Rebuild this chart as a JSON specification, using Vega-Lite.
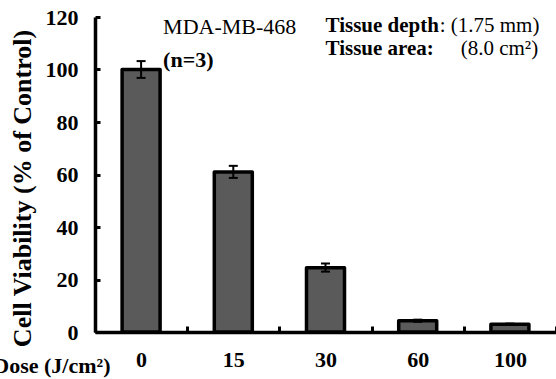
{
  "$schema": "https://vega.github.io/schema/vega-lite/v6.json",
  "width": 461,
  "height": 315,
  "autosize": {"type": "none"},
  "padding": {"left": 95, "top": 17, "right": 0, "bottom": 47},
  "background": "white",
  "config": {"view": {"stroke": null}, "font": "Liberation Serif"},
  "datasets": {
    "bars": [
      {"dose": "0", "viability": 100, "lo": 96.8, "hi": 103.2},
      {"dose": "15", "viability": 61, "lo": 58.7, "hi": 63.3},
      {"dose": "30", "viability": 24.5, "lo": 23.0, "hi": 26.1},
      {"dose": "60", "viability": 4.3, "lo": 3.9, "hi": 4.7},
      {"dose": "100", "viability": 3.0, "lo": 2.8, "hi": 3.2}
    ],
    "cell": [{"dose": "0", "y": 113.5, "label": "MDA-MB-468"}],
    "n": [{"dose": "0", "y": 101, "label": "(n=3)"}],
    "tissueBold": [
      {"dose": "30", "y": 114.3, "label": "Tissue depth"},
      {"dose": "30", "y": 105.5, "label": "Tissue area:"}
    ],
    "depthVal": [{"dose": "60", "y": 114.3, "label": ": (1.75 mm)"}],
    "areaVal": [{"dose": "60", "y": 105.5, "label": "(8.0 cm²)"}]
  },
  "layer": [
    {
      "data": {"name": "bars"},
      "mark": {"type": "bar", "fill": "#5a5a5a", "stroke": "black", "strokeWidth": 3.5, "size": 38, "strokeJoin": "round"},
      "encoding": {
        "x": {
          "field": "dose", "type": "ordinal",
          "sort": ["0", "15", "30", "60", "100"],
          "scale": {"paddingInner": 0, "paddingOuter": 0},
          "axis": {
            "title": "Dose (J/cm²)",
            "titleFont": "Liberation Serif", "titleFontSize": 22, "titleFontWeight": "bold", "titleColor": "black",
            "titleX": 15, "titleY": 40, "titleAlign": "right", "titleBaseline": "alphabetic", "titleAnchor": null,
            "labelFont": "Liberation Serif", "labelFontSize": 22, "labelFontWeight": "bold", "labelColor": "black",
            "labelAngle": 0, "labelBaseline": "alphabetic", "labelPadding": 40,
            "domainColor": "black", "domainWidth": 3.5,
            "tickColor": "black", "tickWidth": 3, "tickSize": -6, "tickBand": "extent"
          }
        },
        "y": {
          "field": "viability", "type": "quantitative",
          "scale": {"domain": [0, 120], "nice": false},
          "axis": {
            "title": "Cell Viability (% of Control)",
            "titleFont": "Liberation Serif", "titleFontSize": 26, "titleFontWeight": "bold", "titleColor": "black",
            "titleX": -73, "titleY": 171, "titleBaseline": "middle", "titleAnchor": null,
            "values": [0, 20, 40, 60, 80, 100, 120],
            "labelFont": "Liberation Serif", "labelFontSize": 22, "labelFontWeight": "bold", "labelColor": "black",
            "labelPadding": 22,
            "grid": false,
            "domainColor": "black", "domainWidth": 3.5,
            "tickColor": "black", "tickWidth": 3, "tickSize": -5
          }
        }
      }
    },
    {
      "data": {"name": "bars"},
      "mark": {"type": "rule", "strokeWidth": 2, "color": "black"},
      "encoding": {
        "x": {"field": "dose", "type": "ordinal", "sort": ["0", "15", "30", "60", "100"]},
        "y": {"field": "lo", "type": "quantitative"},
        "y2": {"field": "hi"}
      }
    },
    {
      "data": {"name": "bars"},
      "mark": {"type": "tick", "thickness": 2, "size": 9, "color": "black", "opacity": 1},
      "encoding": {
        "x": {"field": "dose", "type": "ordinal", "sort": ["0", "15", "30", "60", "100"]},
        "y": {"field": "lo", "type": "quantitative"}
      }
    },
    {
      "data": {"name": "bars"},
      "mark": {"type": "tick", "thickness": 2, "size": 9, "color": "black", "opacity": 1},
      "encoding": {
        "x": {"field": "dose", "type": "ordinal", "sort": ["0", "15", "30", "60", "100"]},
        "y": {"field": "hi", "type": "quantitative"}
      }
    },
    {
      "data": {"name": "cell"},
      "mark": {"type": "text", "align": "left", "baseline": "alphabetic", "dx": 22, "fontSize": 22, "font": "Liberation Serif", "color": "black"},
      "encoding": {
        "x": {"field": "dose", "type": "ordinal", "sort": ["0", "15", "30", "60", "100"]},
        "y": {"field": "y", "type": "quantitative"},
        "text": {"field": "label"}
      }
    },
    {
      "data": {"name": "n"},
      "mark": {"type": "text", "align": "left", "baseline": "alphabetic", "dx": 22, "fontSize": 22, "fontWeight": "bold", "font": "Liberation Serif", "color": "black"},
      "encoding": {
        "x": {"field": "dose", "type": "ordinal", "sort": ["0", "15", "30", "60", "100"]},
        "y": {"field": "y", "type": "quantitative"},
        "text": {"field": "label"}
      }
    },
    {
      "data": {"name": "tissueBold"},
      "mark": {"type": "text", "align": "left", "baseline": "alphabetic", "dx": 0, "fontSize": 21, "fontWeight": "bold", "font": "Liberation Serif", "color": "black"},
      "encoding": {
        "x": {"field": "dose", "type": "ordinal", "sort": ["0", "15", "30", "60", "100"]},
        "y": {"field": "y", "type": "quantitative"},
        "text": {"field": "label"}
      }
    },
    {
      "data": {"name": "depthVal"},
      "mark": {"type": "text", "align": "left", "baseline": "alphabetic", "dx": 22, "fontSize": 21, "font": "Liberation Serif", "color": "black"},
      "encoding": {
        "x": {"field": "dose", "type": "ordinal", "sort": ["0", "15", "30", "60", "100"]},
        "y": {"field": "y", "type": "quantitative"},
        "text": {"field": "label"}
      }
    },
    {
      "data": {"name": "areaVal"},
      "mark": {"type": "text", "align": "left", "baseline": "alphabetic", "dx": 43, "fontSize": 21, "font": "Liberation Serif", "color": "black"},
      "encoding": {
        "x": {"field": "dose", "type": "ordinal", "sort": ["0", "15", "30", "60", "100"]},
        "y": {"field": "y", "type": "quantitative"},
        "text": {"field": "label"}
      }
    }
  ]
}
